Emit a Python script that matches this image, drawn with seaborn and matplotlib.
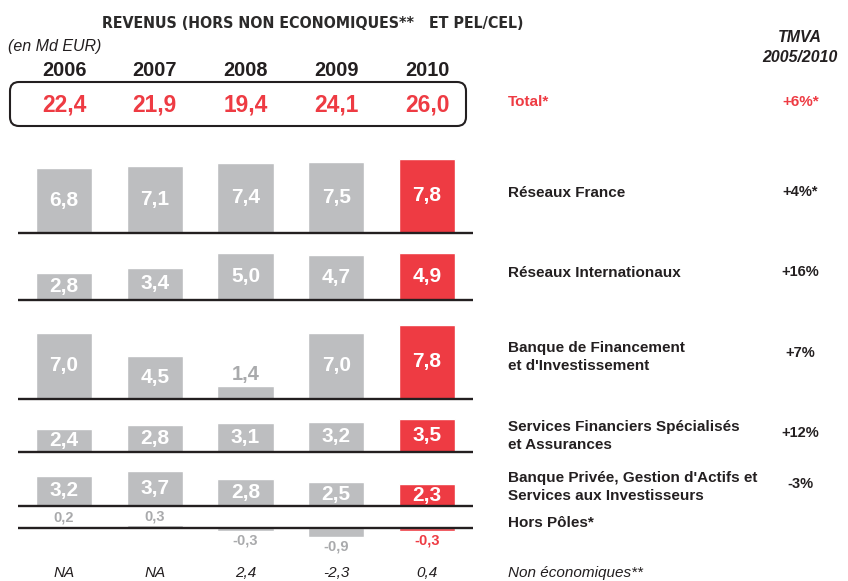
import matplotlib
matplotlib.use("Agg")
import matplotlib.pyplot as plt
import matplotlib.transforms as mtransforms
from matplotlib import font_manager
from matplotlib.patches import FancyBboxPatch
import pandas as pd
import seaborn as sns

# Data
years = ["2006", "2007", "2008", "2009", "2010"]
totals = [22.4, 21.9, 19.4, 24.1, 26.0]
segments = [
    "Réseaux France",
    "Réseaux Internationaux",
    "Banque de Financement\net d'Investissement",
    "Services Financiers Spécialisés\net Assurances",
    "Banque Privée, Gestion d'Actifs et\nServices aux Investisseurs",
    "Hors Pôles*",
]
reseaux_france = [6.8, 7.1, 7.4, 7.5, 7.8]
reseaux_inter = [2.8, 3.4, 5.0, 4.7, 4.9]
bfi = [7.0, 4.5, 1.4, 7.0, 7.8]
sfs = [2.4, 2.8, 3.1, 3.2, 3.5]
bpga = [3.2, 3.7, 2.8, 2.5, 2.3]
hors_poles = [0.2, 0.3, -0.3, -0.9, -0.3]
tmva = ["+4%*", "+16%", "+7%", "+12%", "-3%", ""]
non_eco = ["NA", "NA", "2,4", "-2,3", "0,4"]
total_tmva = "+6%*"

seg_values = [reseaux_france, reseaux_inter, bfi, sfs, bpga, hors_poles]

# Style
sns.set_theme(style="white")
plt.rcParams["font.family"] = ["Liberation Sans", "DejaVu Sans"]

RED = "#ee3b43"
GREY = "#bdbec0"
DARK = "#231f20"
W, H = 848, 581

# condensed font for the title if one is installed
title_font = None
for f in font_manager.fontManager.ttflist:
    fn = f.fname.lower()
    if ("narrow" in fn or "condensed" in fn) and "bold" in fn and "italic" not in fn and "oblique" not in fn:
        title_font = font_manager.FontProperties(fname=f.fname)
        break

fig = plt.figure(figsize=(W / 100, H / 100), dpi=100)

# overlay axes in pixel units for text and the total box
ov = fig.add_axes([0, 0, 1, 1])
ov.set_xlim(0, W)
ov.set_ylim(H, 0)
ov.axis("off")

# panel layout (pixel baselines) and common scale
baselines = [233, 300, 399, 452, 506, 528]
px_per_unit = 9.5
lo, hi = -1.5, 8.5
x_left, x_right = 18, 473

palette = {y: GREY for y in years}
palette["2010"] = RED

def fmt(v):
    return f"{v:.1f}".replace(".", ",")

axes = []
for seg, vals, b in zip(segments, seg_values, baselines):
    bottom_px = b - lo * px_per_unit
    top_px = b - hi * px_per_unit
    ax = fig.add_axes([x_left / W, 1 - bottom_px / H,
                       (x_right - x_left) / W, (bottom_px - top_px) / H])
    ax.patch.set_alpha(0)
    df = pd.DataFrame({"year": years, "value": vals})
    sns.barplot(data=df, x="year", y="value", hue="year", palette=palette,
                width=0.62, legend=False, saturation=1, ax=ax)
    ax.set_xlim(-0.507, 4.507)
    ax.set_ylim(lo, hi)
    ax.axhline(0, color=DARK, lw=1.7, zorder=5)
    ax.axis("off")
    small = seg == "Hors Pôles*"
    for cont, v in zip(ax.containers, vals):
        is_last = cont is ax.containers[-1]
        if abs(v) >= 2:
            ax.bar_label(cont, labels=[fmt(v)], label_type="center",
                         color="white", fontsize=15, fontweight="bold")
        else:
            col = RED if is_last else "#a9aaac"
            ax.bar_label(cont, labels=[fmt(v)], label_type="edge",
                         padding=1 if v > 0 else 2,
                         color=col, fontsize=10.5 if small else 14.5,
                         fontweight="bold")
    axes.append(ax)

# blended transform: x in bar data units, y in pixels
tr = mtransforms.blended_transform_factory(axes[0].transData, ov.transData)

title = "REVENUS (HORS NON ECONOMIQUES**   ET PEL/CEL)"
if title_font is not None:
    title_font.set_size(11.4)
    ov.text(313, 24, title, fontproperties=title_font, color="#2b2a2a",
            ha="center", va="center")
else:
    ov.text(313, 24, title, fontsize=11.5, fontweight="bold", color="#2b2a2a",
            ha="center", va="center")
ov.text(8, 47, "(en Md EUR)", fontsize=11.5, style="italic", color=DARK,
        ha="left", va="center")

box = FancyBboxPatch((10, 82), 456, 44, boxstyle="round,pad=0,rounding_size=9",
                     fc="none", ec=DARK, lw=1.5)
ov.add_patch(box)

for i, (y, t) in enumerate(zip(years, totals)):
    ov.text(i, 70, y, transform=tr, fontsize=14.3, fontweight="bold",
            color=DARK, ha="center", va="center")
    ov.text(i, 105, fmt(t), transform=tr, fontsize=16.4, fontweight="bold",
            color=RED, ha="center", va="center")
    ov.text(i, 573, non_eco[i], transform=tr, fontsize=11, style="italic",
            color=DARK, ha="center", va="center")

# right column
ov.text(800, 37, "TMVA", fontsize=11.4, fontweight="bold", style="italic",
        color=DARK, ha="center", va="center")
ov.text(800, 57, "2005/2010", fontsize=11.4, fontweight="bold", style="italic",
        color=DARK, ha="center", va="center")
ov.text(508, 102, "Total*", fontsize=11, fontweight="bold", color=RED,
        ha="left", va="center")
ov.text(801, 102, total_tmva, fontsize=11, fontweight="bold", color=RED,
        ha="center", va="center")

label_y = [193, 273, 357, 436, 487, 523]
tmva_y = [192, 272, 353, 433, 484, 523]
for seg, ly, t, ty in zip(segments, label_y, tmva, tmva_y):
    ov.text(508, ly, seg, fontsize=11, fontweight="bold", color=DARK,
            ha="left", va="center", linespacing=1.35)
    if t:
        ov.text(800, ty, t, fontsize=10.5, fontweight="bold", color=DARK,
                ha="center", va="center")

ov.text(508, 573, "Non économiques**", fontsize=11, style="italic",
        color=DARK, ha="left", va="center")

fig.savefig("out.png", dpi=100)
